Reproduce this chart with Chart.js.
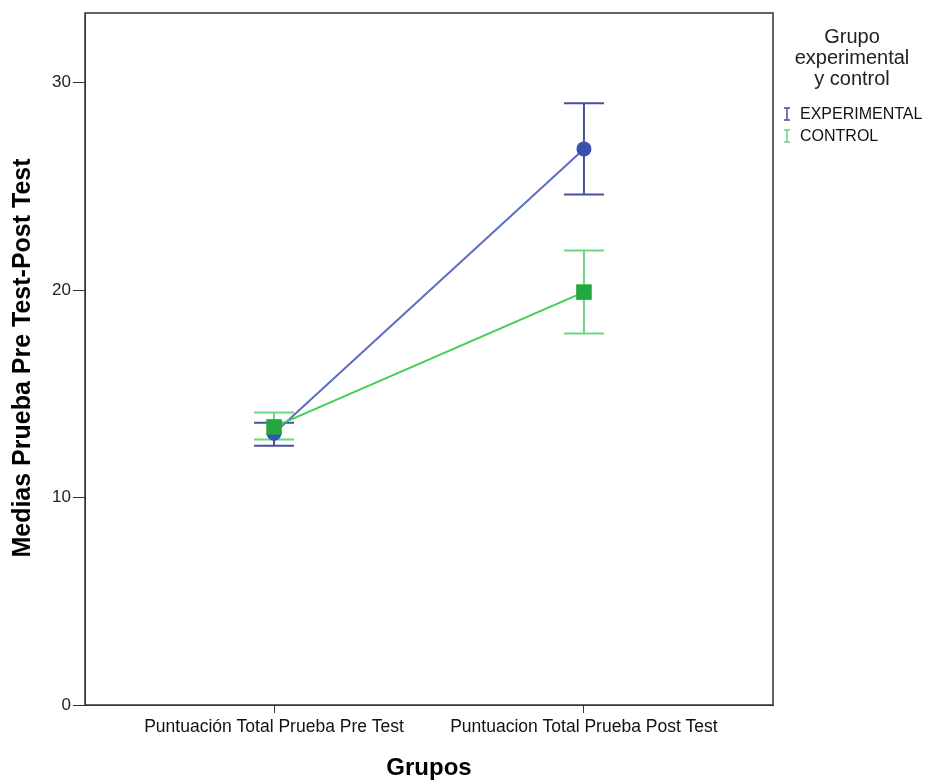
<!DOCTYPE html>
<html><head><meta charset="utf-8">
<script src="https://cdn.jsdelivr.net/npm/chart.js@4/dist/chart.umd.min.js"></script>
<style>html,body{margin:0;padding:0;background:#fff}#wrap{width:927px;height:780px}</style>
</head><body><div id="wrap"><canvas id="c" width="927" height="780"></canvas></div>
<script>
const categories = ["Puntuación Total Prueba Pre Test", "Puntuacion Total Prueba Post Test"];
const seriesNames = ["EXPERIMENTAL", "CONTROL"];
const expMeans = [13.1, 26.8];
const expLow = [12.5, 24.6];
const expHigh = [13.6, 29.0];
const ctlMeans = [13.4, 19.9];
const ctlLow = [12.8, 17.9];
const ctlHigh = [14.1, 21.9];
const yTicks = [0, 10, 20, 30];
const legendTitle = ["Grupo", "experimental", "y control"];
const xTitle = "Grupos";
const yTitle = "Medias Prueba Pre Test-Post Test";

const FONT = "'Liberation Sans', Arial, sans-serif";
const errColors = ["#4a4f9c", "#6fd680"];

const errPlugin = {
  id: 'errbars',
  beforeDatasetsDraw(chart) {
    const ctx = chart.ctx, xs = chart.scales.x, ys = chart.scales.y;
    const sets = [[ctlLow, ctlHigh, 1], [expLow, expHigh, 0]];
    ctx.save();
    sets.forEach((s) => {
      ctx.strokeStyle = errColors[s[2]];
      ctx.lineWidth = 2;
      s[0].forEach((lo, j) => {
        const x = xs.getPixelForValue(j);
        const y1 = ys.getPixelForValue(lo), y2 = ys.getPixelForValue(s[1][j]);
        ctx.beginPath();
        ctx.moveTo(x, y1); ctx.lineTo(x, y2);
        ctx.moveTo(x - 20, y1); ctx.lineTo(x + 20, y1);
        ctx.moveTo(x - 20, y2); ctx.lineTo(x + 20, y2);
        ctx.stroke();
      });
    });
    ctx.restore();
  },
  afterDraw(chart) {
    const ctx = chart.ctx, a = chart.chartArea;
    ctx.save();
    ctx.strokeStyle = "#333";
    ctx.lineWidth = 1.5;
    ctx.strokeRect(a.left, a.top, a.right - a.left, a.bottom - a.top);
    // axis titles
    ctx.fillStyle = "#000";
    ctx.textAlign = "center"; ctx.textBaseline = "middle";
    ctx.font = "bold 24px " + FONT;
    ctx.fillText(xTitle, (a.left + a.right) / 2, 768);
    ctx.save();
    ctx.translate(23, 358);
    ctx.rotate(-Math.PI / 2);
    ctx.font = "bold 25px " + FONT;
    ctx.fillText(yTitle, 0, 0);
    ctx.restore();
    // legend
    ctx.fillStyle = "#222";
    ctx.font = "20px " + FONT;
    legendTitle.forEach((t, i) => ctx.fillText(t, 852, 37 + i * 21));
    ctx.font = "16px " + FONT;
    ctx.textAlign = "left";
    seriesNames.forEach((n, i) => {
      const y = 114 + i * 22;
      ctx.strokeStyle = errColors[i];
      ctx.lineWidth = 1.5;
      ctx.beginPath();
      ctx.moveTo(787, y - 6); ctx.lineTo(787, y + 6);
      ctx.moveTo(784, y - 6); ctx.lineTo(790, y - 6);
      ctx.moveTo(784, y + 6); ctx.lineTo(790, y + 6);
      ctx.stroke();
      ctx.fillStyle = "#111";
      ctx.fillText(n, 800, y + 1);
    });
    ctx.restore();
  }
};

new Chart(document.getElementById('c'), {
  type: 'line',
  data: {
    datasets: [
      { label: seriesNames[0], order: 1, data: expMeans.map((v, i) => ({x: i, y: v})),
        borderColor: "#5a6dc6", borderWidth: 2, pointStyle: 'circle', pointRadius: 7.5,
        pointBackgroundColor: "#3a50b0", pointBorderColor: "#3a50b0", pointBorderWidth: 0 },
      { label: seriesNames[1], order: 0, data: ctlMeans.map((v, i) => ({x: i, y: v})),
        borderColor: "#3fcf57", borderWidth: 2, pointStyle: 'rect', pointRadius: 11,
        pointBackgroundColor: "#22a83c", pointBorderColor: "#22a83c", pointBorderWidth: 0 }
    ]
  },
  options: {
    responsive: false, animation: false,
    layout: { padding: { left: 0, top: 13, right: 154, bottom: 0 } },
    plugins: { legend: { display: false }, tooltip: { enabled: false } },
    scales: {
      x: {
        type: 'linear', min: -0.61, max: 1.61,
        afterBuildTicks: s => { s.ticks = [0, 1].map(v => ({value: v})); },
        afterFit: s => { s.height = 75; },
        grid: { drawOnChartArea: false, drawTicks: true, tickLength: 8, color: "#333" },
        border: { display: true, color: "#333" },
        ticks: { callback: v => categories[v], color: "#111", font: { family: FONT, size: 17.5 }, padding: 4, maxRotation: 0 }
      },
      y: {
        min: 0, max: 33.35,
        afterBuildTicks: s => { s.ticks = yTicks.map(v => ({value: v})); },
        afterFit: s => { s.width = 85; },
        grid: { drawOnChartArea: false, drawTicks: true, tickLength: 12, color: "#333" },
        border: { display: true, color: "#333" },
        ticks: { color: "#222", font: { family: FONT, size: 17 }, padding: 2 }
      }
    }
  },
  plugins: [errPlugin]
});
</script></body></html>
